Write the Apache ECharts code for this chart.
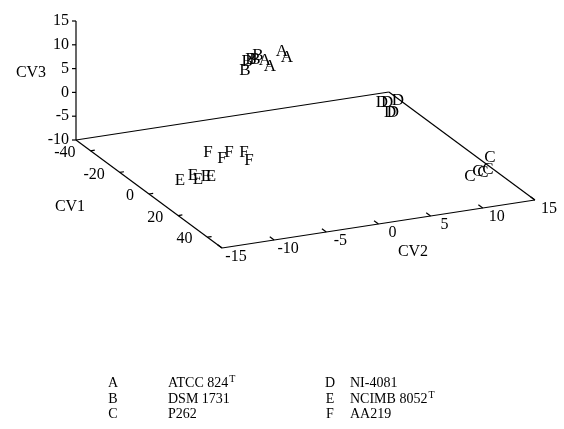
<!DOCTYPE html>
<html>
<head>
<meta charset="utf-8">
<script src="https://cdn.jsdelivr.net/npm/echarts@6/dist/echarts.min.js"></script>
<style>
html,body{margin:0;padding:0;background:#fff;}
#chart{width:564px;height:429px;}
</style>
</head>
<body>
<div id="chart"></div>
<script>
// ---- axis extents and ticks ----
const cv1Range = [-50, 50];
const cv2Range = [-15, 15];
const cv3Range = [-10, 15];
const cv1Ticks = [-40, -20, 0, 20, 40];
const cv2Ticks = [-15, -10, -5, 0, 5, 10, 15];
const cv3Ticks = [-10, -5, 0, 5, 10, 15];

// ---- canonical variate scores [CV1, CV2, CV3] per strain ----
const strainA = [[-34, 2.51, 6.23], [-36, 3.27, 4.26], [-33, 0.74, 5.16], [-37, 1.78, 2.65]];
const strainB = [[-38, -0.48, 2.34], [-40, 0.00, 3.61], [-37, -0.04, 4.73], [-39, 0.62, 4.05], [-36, 0.49, 5.62]];
const strainC = [[42, 9.90, -5.27], [40, 10.94, -5.02], [41, 11.28, -5.12], [39, 12.04, -5.20], [36, 12.65, -3.56]];
const strainD = [[-21, 10.28, -4.14], [-22, 10.90, -4.58], [-23, 12.09, -4.79], [-19, 10.77, -5.96], [-20, 11.19, -6.32]];
const strainE = [[2, -12.31, -7.72], [-2, -10.50, -8.18], [3, -10.72, -7.82], [0, -9.53, -8.27], [1, -9.20, -8.15]];
const strainF = [[-6, -8.50, -4.93], [-3, -7.58, -5.82], [-5, -6.63, -5.33], [-7, -4.91, -6.37], [-4, -4.85, -7.39]];

const groupKeys = ['A', 'B', 'C', 'D', 'E', 'F'];
const groupNames = ['ATCC 824', 'DSM 1731', 'P262', 'NI-4081', 'NCIMB 8052', 'AA219'];
const groupTypeStrain = [true, false, false, false, true, false];

// ---- oblique projection of the 3-D box onto the page ----
const ORIGIN = [76, 140];
const E1 = [1.46, 1.08];     // per CV1 unit
const E2 = [10.43, -1.6];    // per CV2 unit
const E3 = [0, -4.76];       // per CV3 unit
function project(c1, c2, c3) {
  const u = c1 - cv1Range[0], v = c2 - cv2Range[0], w = c3 - cv3Range[0];
  return [ORIGIN[0] + u * E1[0] + v * E2[0] + w * E3[0],
          ORIGIN[1] + u * E1[1] + v * E2[1] + w * E3[1]];
}

const FONT = '"Liberation Serif", "Times New Roman", serif';
const INK = '#000';

// frame segments
const [a0, a1] = cv1Range, [b0, b1] = cv2Range, [c0, c1] = cv3Range;
const segs = [];
function seg(p, q) { segs.push([p[0], p[1], q[0], q[1]]); }
seg(project(a0, b0, c0), project(a0, b0, c1));
seg(project(a0, b0, c0), project(a0, b1, c0));
seg(project(a0, b1, c0), project(a1, b1, c0));
seg(project(a1, b0, c0), project(a1, b1, c0));
seg(project(a0, b0, c0), project(a1, b0, c0));
cv3Ticks.forEach(t => { const p = project(a0, b0, t); seg(p, [p[0] - 4, p[1]]); });
cv1Ticks.forEach(t => seg(project(t, b0, c0), project(t, b0 + 0.4, c0)));
cv2Ticks.forEach(t => seg(project(a1, t, c0), project(a1 - 3, t, c0)));

// tick labels: [x, y, text, align]
const tickLabels = [];
cv3Ticks.forEach(t => { const p = project(a0, b0, t); tickLabels.push([p[0] - 7, p[1], String(t), 'right']); });
cv1Ticks.forEach(t => { const p = project(t, b0, c0); tickLabels.push([p[0] - 15, p[1] + 2, String(t), 'right']); });
cv2Ticks.forEach(t => { const p = project(a1, t, c0); tickLabels.push([p[0] + 14, p[1] + 9, String(t), 'center']); });

// points: [x, y, letter]
const groups = [strainA, strainB, strainC, strainD, strainE, strainF];
const pointData = [];
groups.forEach((g, gi) => g.forEach(r => {
  const p = project(r[0], r[1], r[2]);
  pointData.push([p[0], p[1], groupKeys[gi]]);
}));

const chart = echarts.init(document.getElementById('chart'), null, { renderer: 'canvas' });

const legendGraphics = [];
const rowsY = [383, 399, 414];
groupKeys.forEach((k, i) => {
  const col = Math.floor(i / 3), row = i % 3;
  const kx = col === 0 ? 113 : 330;
  const nx = col === 0 ? 168 : 350;
  legendGraphics.push({
    type: 'text', x: kx, y: rowsY[row],
    style: { text: k, font: '14px ' + FONT, fill: INK, align: 'center', verticalAlign: 'middle' }
  });
  legendGraphics.push({
    type: 'text', x: nx, y: rowsY[row],
    style: {
      text: '{n|' + groupNames[i] + '}' + (groupTypeStrain[i] ? '{s|T}' : ''),
      fill: INK, align: 'left', verticalAlign: 'middle',
      rich: {
        n: { fontSize: 14, fontFamily: FONT, fill: INK },
        s: { fontSize: 10, fontFamily: FONT, fill: INK, verticalAlign: 'top', padding: [0, 0, 8, 1] }
      }
    }
  });
});

const titleStyle = (t) => ({ text: t, font: '16px ' + FONT, fill: INK, align: 'center', verticalAlign: 'middle' });

function textItem(size) {
  return function (params, api) {
    const p = api.coord([api.value(0), api.value(1)]);
    return {
      type: 'text', x: p[0], y: p[1],
      style: { text: String(api.value(2)), font: size + 'px ' + FONT, fill: INK,
               align: api.value(3) || 'center', verticalAlign: 'middle' }
    };
  };
}

chart.setOption({
  animation: false,
  backgroundColor: '#fff',
  grid: { left: 0, top: 0, right: 0, bottom: 0 },
  xAxis: { type: 'value', min: 0, max: 564, show: false },
  yAxis: { type: 'value', min: 0, max: 429, inverse: true, show: false },
  graphic: [
    { type: 'text', x: 31, y: 73, style: titleStyle('CV3') },
    { type: 'text', x: 70, y: 207, style: titleStyle('CV1') },
    { type: 'text', x: 413, y: 252, style: titleStyle('CV2') }
  ].concat(legendGraphics),
  series: [
    {
      type: 'custom',
      data: segs,
      silent: true,
      renderItem: function (params, api) {
        const p = api.coord([api.value(0), api.value(1)]);
        const q = api.coord([api.value(2), api.value(3)]);
        return { type: 'line', shape: { x1: p[0], y1: p[1], x2: q[0], y2: q[1] },
                 style: { stroke: INK, lineWidth: 1.2 } };
      }
    },
    {
      type: 'custom',
      silent: true,
      dimensions: ['x', 'y', { name: 't', type: 'ordinal' }, { name: 'a', type: 'ordinal' }],
      data: tickLabels,
      renderItem: textItem(16)
    },
    {
      type: 'custom',
      silent: true,
      dimensions: ['x', 'y', { name: 't', type: 'ordinal' }],
      data: pointData,
      renderItem: textItem(17)
    }
  ]
});
</script>
</body>
</html>
